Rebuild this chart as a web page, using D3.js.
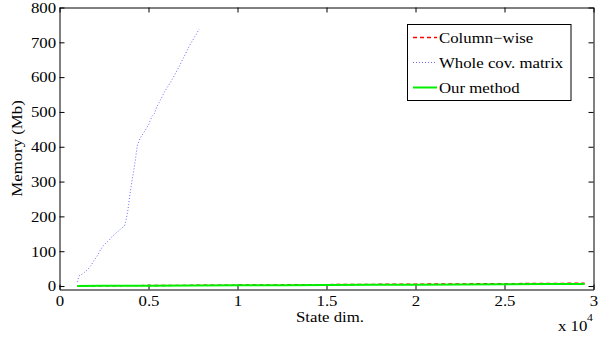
<!DOCTYPE html>
<html>
<head>
<meta charset="utf-8">
<script src="https://cdn.jsdelivr.net/npm/d3@7"></script>
<style>
  html, body { margin: 0; padding: 0; background: #fff; }
  svg { display: block; }
  text { font-family: "Liberation Serif", "Times New Roman", serif; fill: #000; }
</style>
</head>
<body>
<svg id="chart" width="602" height="337"></svg>
<script>
// Memory use against state dimension for the three covariance strategies
const stateDim   = [1000, 2500, 5000, 7500, 10000, 12500, 15000, 17500, 20000, 22500, 25000, 27500, 29500];
const columnWise = [0.3, 0.7, 1.4, 2.0, 2.7, 3.4, 4.1, 4.8, 5.4, 6.1, 6.8, 7.5, 8.0];
const ourMethod  = [0.2, 0.5, 1.0, 1.5, 2.0, 2.5, 3.0, 3.5, 4.0, 4.6, 5.1, 5.6, 6.0];

// The full covariance matrix only fits for small states
const wholeCovDim = [1000, 1100, 1300, 1400, 1600, 1750, 1900, 2050, 2150, 2300, 2450, 2600, 2800, 2950,
                     3150, 3300, 3450, 3650, 3700, 3750, 3800, 3850, 3880, 3920, 4010, 4160, 4250, 4350,
                     4400, 4535, 4780, 5000, 5190, 5340, 5470, 5600, 5900, 6260, 6650, 7050, 7300, 7600, 7850];
const wholeCovMem = [12, 29, 35, 39, 48, 58, 70, 82, 89, 104, 115, 123, 132, 142,
                     151, 157, 165, 172, 182, 193, 206, 220, 234, 249, 282, 328, 358, 396,
                     408, 425, 444, 463, 487, 496, 515, 527, 558, 587, 623, 664, 690, 716, 738];

const xTicks = [0, 5000, 10000, 15000, 20000, 25000, 30000];
const yTicks = [0, 100, 200, 300, 400, 500, 600, 700, 800];
const legendLabels = ["Column\u2212wise", "Whole cov. matrix", "Our method"];

const FS = 15, SX = 1.12;   // font size and horizontal stretch of the lettering
const plotL = 59.5, plotR = 593.5, plotT = 7.5, plotB = 289.5;

const svg = d3.select("#chart");
const x = d3.scaleLinear().domain([0, 30000]).range([plotL, plotR]);
const y = d3.scaleLinear().domain([-10, 800]).range([plotB, plotT]);

function stretch(sel) { sel.attr("transform", `scale(${SX},1)`); }

// Axes with inward ticks on all four sides
svg.append("g").attr("transform", `translate(0,${plotB})`)
  .call(d3.axisBottom(x).tickValues(xTicks).tickSizeInner(-5).tickSizeOuter(0).tickPadding(6)
        .tickFormat(d => d3.format("~g")(d / 10000)));
svg.append("g").attr("transform", `translate(${plotL},0)`)
  .call(d3.axisLeft(y).tickValues(yTicks).tickSizeInner(-5).tickSizeOuter(0).tickPadding(3));
svg.append("g").attr("transform", `translate(0,${plotT})`)
  .call(d3.axisTop(x).tickValues(xTicks).tickSizeInner(-5).tickSizeOuter(0).tickFormat(""));
svg.append("g").attr("transform", `translate(${plotR},0)`)
  .call(d3.axisRight(y).tickValues(yTicks).tickSizeInner(-5).tickSizeOuter(0).tickFormat(""));

svg.selectAll(".tick text").attr("font-size", FS).style("font-family", "Liberation Serif").call(stretch);
svg.selectAll(".domain, .tick line").attr("stroke", "#000").attr("stroke-width", 1);

// Series
const line = d3.line().x(d => x(d[0])).y(d => y(d[1]));
const series = [
  { label: legendLabels[0], xs: stateDim,    ys: columnWise,  color: "#ff0000", width: 1.4, dash: "4,3" },
  { label: legendLabels[1], xs: wholeCovDim, ys: wholeCovMem, color: "#6a6aff", width: 1,   dash: "1,2" },
  { label: legendLabels[2], xs: stateDim,    ys: ourMethod,   color: "#00ee00", width: 2,   dash: null }
];
series.forEach(s => {
  svg.append("path")
    .datum(d3.zip(s.xs, s.ys))
    .attr("d", line)
    .attr("fill", "none")
    .attr("stroke", s.color)
    .attr("stroke-width", s.width)
    .attr("stroke-dasharray", s.dash);
});

// Axis titles
function label(txt, tx, ty, opts = {}) {
  const g = svg.append("g").attr("transform", `translate(${tx},${ty})${opts.rotate ? ` rotate(${opts.rotate})` : ""}`);
  return g.append("text")
    .attr("font-size", opts.size || FS)
    .attr("text-anchor", opts.anchor || "start")
    .attr("transform", `scale(${SX},1)`)
    .text(txt);
}
label("State dim.", 330, 322, { anchor: "middle" });
label("x 10", 558, 331);
label("4", 587, 321, { size: 10.5 });
label("Memory (Mb)", 22, 148.5, { anchor: "middle", rotate: -90 });

// Legend
const lg = svg.append("g");
lg.append("rect").attr("x", 407.5).attr("y", 24.5).attr("width", 163.5).attr("height", 76)
  .attr("fill", "#fff").attr("stroke", "#000").attr("stroke-width", 1);
series.forEach((s, i) => {
  const ly = 37.5 + i * 25;
  lg.append("line").attr("x1", 413).attr("x2", 437).attr("y1", ly).attr("y2", ly)
    .attr("stroke", s.color).attr("stroke-width", s.width).attr("stroke-dasharray", s.dash);
  lg.append("g").attr("transform", `translate(439,${ly + 5})`)
    .append("text").attr("font-size", FS).attr("transform", `scale(${SX},1)`).text(s.label);
});
</script>
</body>
</html>
